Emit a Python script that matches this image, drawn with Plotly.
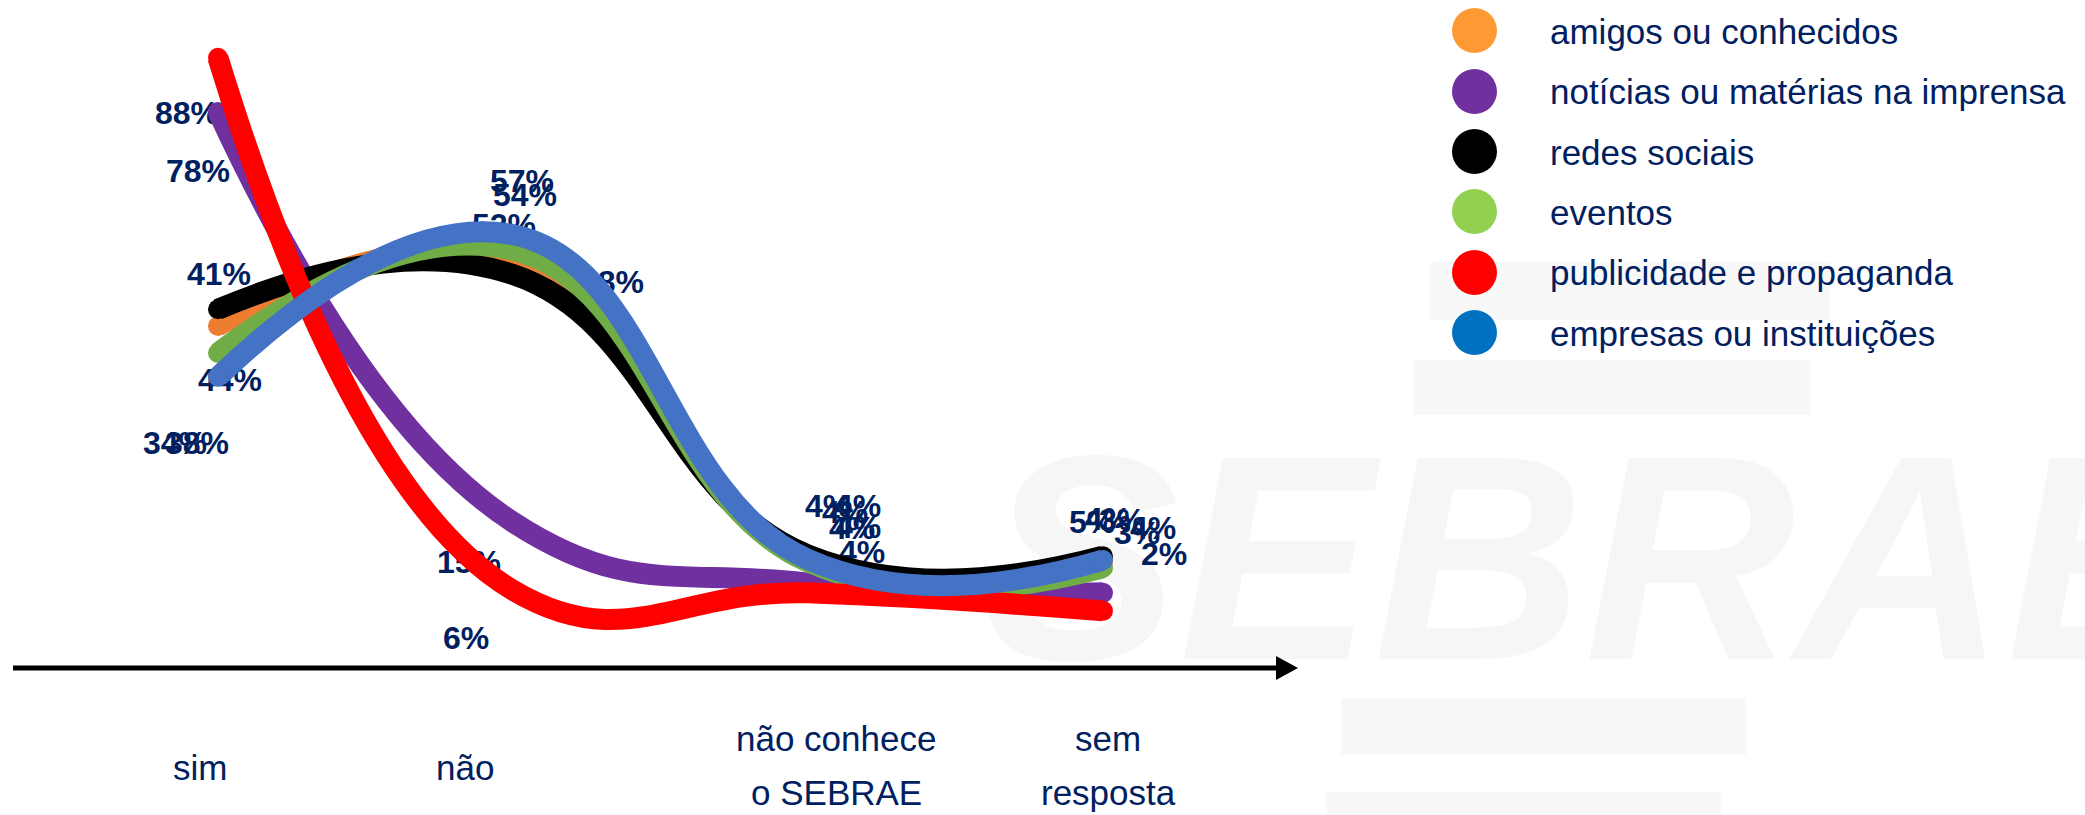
import plotly.graph_objects as go

# ---------------- data ----------------
categories = ["sim", "não", "não conhece o SEBRAE", "sem resposta"]
category_lines = [["sim"], ["não"], ["não conhece", "o SEBRAE"], ["sem", "resposta"]]

series_names = ["amigos ou conhecidos", "notícias ou matérias na imprensa", "redes sociais",
                "eventos", "publicidade e propaganda", "empresas ou instituições"]

# values as drawn by the smoothed lines (%)
amigos = [46.5, 56.8, 10.4, 9.8]
noticias = [79.8, 16.0, 6.5, 5.0]
redes = [49.1, 54.5, 10.9, 10.7]
eventos = [42.3, 58.3, 9.8, 8.9]
publicidade = [88.2, 5.4, 5.0, 2.2]
empresas = [38.6, 60.7, 10.2, 10.1]

# data labels as printed on the chart
lbl_amigos = ["41%", "52%", "4%", "3%"]
lbl_noticias = ["78%", "15%", "4%", "3%"]
lbl_redes = ["44%", "48%", "4%", "4%"]
lbl_eventos = ["38%", "54%", "4%", "4%"]
lbl_publicidade = ["88%", "6%", "4%", "2%"]
lbl_empresas = ["34%", "57%", "4%", "5%"]

# ---------------- styles / layout ----------------
W, H = 2085, 815
line_colors = ["#ED7D31", "#7030A0", "#000000", "#70AD47", "#FF0000", "#4472C4"]
legend_colors = ["#FF9933", "#7030A0", "#000000", "#92D050", "#FF0000", "#0070C0"]
NAVY = "#002060"
LINE_W = 21

X0_PX, PX_PER_X = 218, 295.0      # pixel of category 0, pixels per category
Y0_PX, PX_PER_Y = 625, 6.43       # pixel of 0 %, pixels per %
L, R, T, B = 144, 1177, 14, 689   # plot area in pixels

x_range = [(L - X0_PX) / PX_PER_X, (R - X0_PX) / PX_PER_X]
y_range = [(Y0_PX - B) / PX_PER_Y, (Y0_PX - T) / PX_PER_Y]


def paper(xp, yp):
    return (xp - L) / (R - L), (B - yp) / (B - T)


values = [amigos, noticias, redes, eventos, publicidade, empresas]
labels = [lbl_amigos, lbl_noticias, lbl_redes, lbl_eventos, lbl_publicidade, lbl_empresas]

# label centre positions (pixels) as placed in the original (labels sit off their points)
label_px = [
    [(219, 277), (504, 228), (828, 509), (1122, 523)],   # amigos
    [(198, 174), (469, 565), (858, 509), (1137, 536)],   # noticias
    [(230, 383), (612, 285), (852, 531), (1153, 531)],   # redes
    [(197, 446), (525, 198), (858, 530), (1108, 522)],   # eventos
    [(187, 116), (466, 641), (862, 555), (1164, 557)],   # publicidade
    [(175, 446), (522, 184), (845, 515), (1092, 525)],   # empresas
]

fig = go.Figure()
x_idx = list(range(len(categories)))

# data labels first, so that the thick lines pass over them as in the original
for vals, texts, poss in zip(values, labels, label_px):
    lx_data, ly_data = [], []
    for i, (v, (lx, ly)) in enumerate(zip(vals, poss)):
        dx = lx - (X0_PX + PX_PER_X * i)          # pixel offset from the point
        dy = (Y0_PX - PX_PER_Y * v) - ly
        lx_data.append(i + dx / PX_PER_X)
        ly_data.append(v + dy / PX_PER_Y)
    fig.add_trace(go.Scatter(
        x=lx_data, y=ly_data, mode="text", text=texts, textposition="middle center",
        textfont=dict(family="Liberation Sans, Arial", size=32, color=NAVY, weight="bold"),
        showlegend=False, hoverinfo="skip", cliponaxis=False,
    ))

for name, vals, col in zip(series_names, values, line_colors):
    fig.add_trace(go.Scatter(
        x=x_idx, y=vals, name=name, mode="lines+markers",
        line=dict(color=col, width=LINE_W, shape="spline", smoothing=1.3),
        marker=dict(size=[LINE_W - 1, 0, 0, LINE_W - 1], color=col, opacity=1, line=dict(width=0)),
        showlegend=False, hoverinfo="skip", cliponaxis=False,
    ))

annotations = []
# category labels
cat_px = [(200, [767]), (465, [767]), (836, [739, 792]), (1108, [739, 792])]
for lines, (cx, ys) in zip(category_lines, cat_px):
    for txt, cy in zip(lines, ys):
        px_, py_ = paper(cx, cy)
        annotations.append(dict(
            x=px_, y=py_, xref="paper", yref="paper", text=txt, showarrow=False,
            xanchor="center", yanchor="middle",
            font=dict(family="Liberation Sans, Arial", size=35, color=NAVY),
        ))

shapes = []
# faint SEBRAE watermark
wm_bars = [(1430, 262, 1830, 320), (1413, 360, 1811, 415), (1341, 698, 1746, 755), (1326, 792, 1721, 815)]
for (x0, y0, x1, y1) in wm_bars:
    a0, b0 = paper(x0, y1)
    a1, b1 = paper(x1, y0)
    shapes.append(dict(type="rect", xref="paper", yref="paper", x0=a0, y0=b0, x1=a1, y1=b1,
                       fillcolor="#F8F8F8", line=dict(width=0), layer="below"))
a0, b0 = paper(978, 655)
a1, b1 = paper(2260, 405)
shapes.append(dict(type="rect", xref="paper", yref="paper", x0=a0, y0=b0, x1=a1, y1=b1,
                   fillcolor="rgba(0,0,0,0)", line=dict(width=0), layer="below",
                   label=dict(text="SEBRAE", textposition="middle left",
                              font=dict(family="Liberation Sans, Arial", size=292,
                                        color="#F6F6F6", weight="bold", style="italic"))))

# axis arrow
ax0, ay0 = paper(13, 668)
ax1, ay1 = paper(1280, 668)
shapes.append(dict(type="line", xref="paper", yref="paper", x0=ax0, y0=ay0, x1=ax1, y1=ay1,
                   line=dict(color="#000000", width=5)))
p1 = paper(1276, 656)
p2 = paper(1298, 668)
p3 = paper(1276, 680)
shapes.append(dict(type="path", xref="paper", yref="paper",
                   path=f"M {p1[0]} {p1[1]} L {p2[0]} {p2[1]} L {p3[0]} {p3[1]} Z",
                   fillcolor="#000000", line=dict(width=0)))

# legend (drawn)
leg_y = [31, 92, 152, 212, 273, 333]
for name, col, ly in zip(series_names, legend_colors, leg_y):
    a0, b0 = paper(1452, ly + 22)
    a1, b1 = paper(1497, ly - 23)
    shapes.append(dict(type="circle", xref="paper", yref="paper", x0=a0, y0=b0, x1=a1, y1=b1,
                       fillcolor=col, line=dict(width=0)))
    tx, ty = paper(1548, ly)
    annotations.append(dict(
        x=tx, y=ty, xref="paper", yref="paper", text=name, showarrow=False,
        xanchor="left", yanchor="middle",
        font=dict(family="Liberation Sans, Arial", size=35, color=NAVY),
    ))

fig.update_layout(
    width=W, height=H,
    margin=dict(l=L, r=W - R, t=T, b=H - B, pad=0),
    paper_bgcolor="white", plot_bgcolor="rgba(0,0,0,0)",
    xaxis=dict(range=x_range, visible=False, fixedrange=True),
    yaxis=dict(range=y_range, visible=False, fixedrange=True),
    annotations=annotations, shapes=shapes,
    showlegend=False,
)

fig.write_html("out.html", config={"displayModeBar": False},
               post_script="document.body.style.margin='0';document.body.style.overflow='hidden';")
